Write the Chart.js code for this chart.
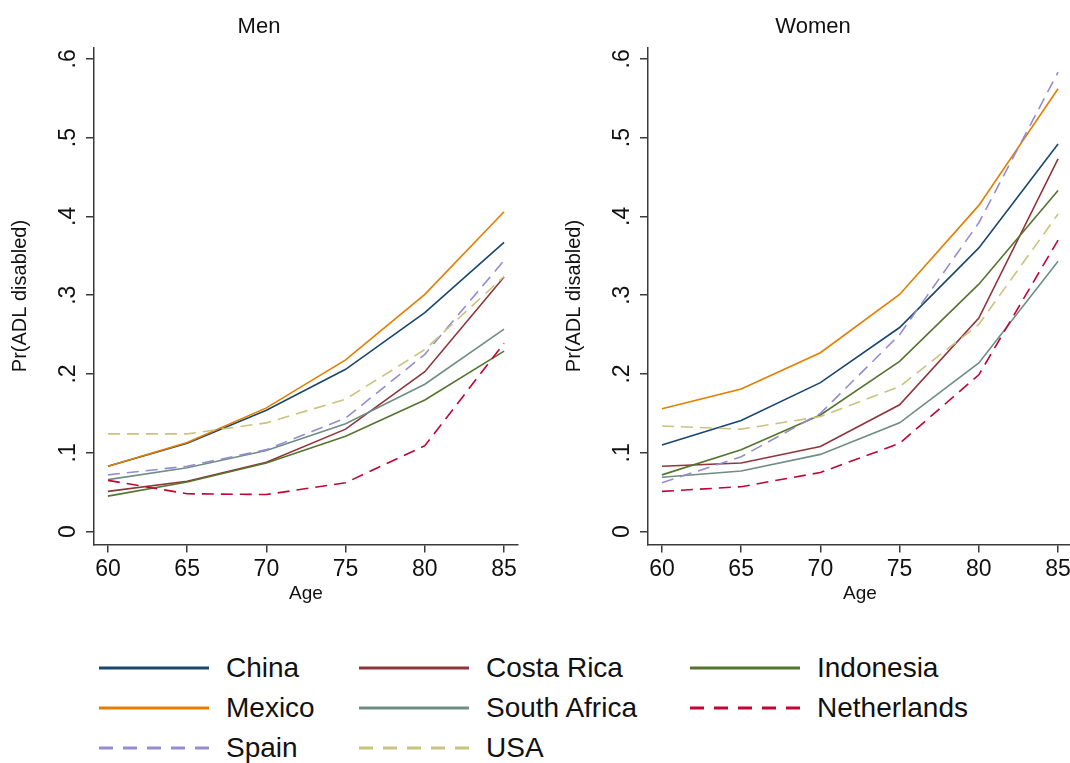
<!DOCTYPE html>
<html>
<head>
<meta charset="utf-8">
<script src="https://cdn.jsdelivr.net/npm/chart.js@4"></script>
<style>
  html, body { margin: 0; padding: 0; background: #fff; overflow: hidden; }
  body { width: 1070px; height: 763px; position: relative; font-family: "Liberation Sans", Arial, sans-serif; }
  .panel { position: absolute; top: 0; width: 530px; height: 605px; }
  #men { left: 0; }
  #women { left: 554px; }
  #legend { position: absolute; left: 99px; top: 648px; display: grid;
            grid-template-columns: 260px 331px 300px; grid-auto-rows: 40px; }
  .item { display: flex; align-items: center; font-size: 28px; color: #111; white-space: nowrap; }
  .item svg { margin-right: 17px; flex-shrink: 0; }
</style>
</head>
<body>
<div class="panel" id="men"><canvas id="menChart"></canvas></div>
<div class="panel" id="women"><canvas id="womenChart"></canvas></div>
<div id="legend"></div>
<script>
// ages on the x axis
const ages = [60, 65, 70, 75, 80, 85];
const yTicks = [0, 0.1, 0.2, 0.3, 0.4, 0.5, 0.6];
const countries = ['China', 'Costa Rica', 'Indonesia', 'Mexico', 'South Africa', 'Netherlands', 'Spain', 'USA'];

// Men
const menChina       = [0.083, 0.112, 0.154, 0.206, 0.278, 0.367];
const menCostaRica   = [0.051, 0.064, 0.088, 0.130, 0.203, 0.323];
const menIndonesia   = [0.045, 0.063, 0.087, 0.121, 0.167, 0.229];
const menMexico      = [0.083, 0.113, 0.157, 0.218, 0.301, 0.406];
const menSouthAfrica = [0.066, 0.081, 0.103, 0.137, 0.187, 0.257];
const menNetherlands = [0.065, 0.048, 0.047, 0.062, 0.109, 0.239];
const menSpain       = [0.072, 0.083, 0.104, 0.144, 0.225, 0.344];
const menUSA         = [0.124, 0.124, 0.138, 0.168, 0.231, 0.324];

// Women
const womenChina       = [0.110, 0.141, 0.189, 0.259, 0.360, 0.492];
const womenCostaRica   = [0.083, 0.087, 0.108, 0.161, 0.271, 0.473];
const womenIndonesia   = [0.072, 0.104, 0.148, 0.216, 0.314, 0.433];
const womenMexico      = [0.156, 0.181, 0.227, 0.301, 0.414, 0.562];
const womenSouthAfrica = [0.069, 0.077, 0.098, 0.138, 0.214, 0.343];
const womenNetherlands = [0.051, 0.057, 0.075, 0.112, 0.199, 0.370];
const womenSpain       = [0.062, 0.095, 0.150, 0.250, 0.392, 0.583];
const womenUSA         = [0.134, 0.130, 0.146, 0.184, 0.263, 0.403];

const menSeries = [menChina, menCostaRica, menIndonesia, menMexico, menSouthAfrica, menNetherlands, menSpain, menUSA];
const womenSeries = [womenChina, womenCostaRica, womenIndonesia, womenMexico, womenSouthAfrica, womenNetherlands, womenSpain, womenUSA];

// stata s2color palette
const colors = ['#1a476f', '#90353b', '#55752f', '#e37e00', '#6e8e84', '#c10534', '#938dd2', '#cac27e'];
const dashed = [false, false, false, false, false, true, true, true];

const FONT = '"Liberation Sans", Arial, sans-serif';
const AXIS = '#3a3a3a';

function makeDatasets(series) {
    return series.map((vals, i) => ({
        label: countries[i],
        data: vals.map((v, j) => ({ x: ages[j], y: v })),
        borderColor: colors[i],
        borderWidth: 1.6,
        borderDash: dashed[i] ? [12, 7] : [],
        pointRadius: 0,
        tension: 0,
        fill: false,
        order: series.length - i
    }));
}

function makeChart(id, title, series) {
    const ctx = document.getElementById(id).getContext('2d');
    return new Chart(ctx, {
        type: 'line',
        data: { datasets: makeDatasets(series) },
        options: {
            responsive: true,
            maintainAspectRatio: false,
            animation: false,
            layout: { padding: { left: 0, right: 12, top: 0, bottom: 0 } },
            plugins: {
                legend: { display: false },
                tooltip: { enabled: false },
                title: {
                    display: true,
                    text: title,
                    color: '#111',
                    font: { family: FONT, size: 22, weight: 'normal' },
                    padding: { top: 14, bottom: 7 }
                }
            },
            scales: {
                x: {
                    type: 'linear',
                    min: 59.12,
                    max: 85.88,
                    afterBuildTicks: s => { s.ticks = ages.map(v => ({ value: v })); },
                    grid: { drawOnChartArea: false, drawTicks: true, tickLength: 8, color: AXIS, lineWidth: 1.5 },
                    border: { display: true, color: AXIS, width: 1.5 },
                    ticks: { color: '#111', font: { family: FONT, size: 23 }, padding: 3, maxRotation: 0 },
                    title: {
                        display: true, text: 'Age', color: '#111',
                        font: { family: FONT, size: 19 }, padding: { top: -4, bottom: 0 }
                    }
                },
                y: {
                    min: -0.0165,
                    max: 0.6145,
                    afterBuildTicks: s => { s.ticks = yTicks.map(v => ({ value: v })); },
                    afterFit: s => { s.width = 94; },
                    grid: { drawOnChartArea: false, drawTicks: true, tickLength: 8, color: AXIS, lineWidth: 1.5 },
                    border: { display: true, color: AXIS, width: 1.5 },
                    ticks: {
                        color: '#111',
                        font: { family: FONT, size: 23 },
                        minRotation: 90, maxRotation: 90,
                        crossAlign: 'center',
                        padding: 8,
                        callback: v => v === 0 ? '0' : v.toFixed(1).replace(/^0/, '')
                    },
                    title: {
                        display: true, text: 'Pr(ADL disabled)', color: '#111',
                        font: { family: FONT, size: 20 }, padding: { top: 8, bottom: 0 }
                    }
                }
            }
        }
    });
}

makeChart('menChart', 'Men', menSeries);
makeChart('womenChart', 'Women', womenSeries);

// shared legend, 3 columns filled row by row
const legend = document.getElementById('legend');
countries.forEach((name, i) => {
    const item = document.createElement('div');
    item.className = 'item';
    const dash = dashed[i] ? 'stroke-dasharray="14 10"' : '';
    item.innerHTML = '<svg width="110" height="6"><line x1="0" y1="3" x2="110" y2="3" stroke="' + colors[i] +
        '" stroke-width="3" ' + dash + '/></svg><span>' + name + '</span>';
    legend.appendChild(item);
});
</script>
</body>
</html>
